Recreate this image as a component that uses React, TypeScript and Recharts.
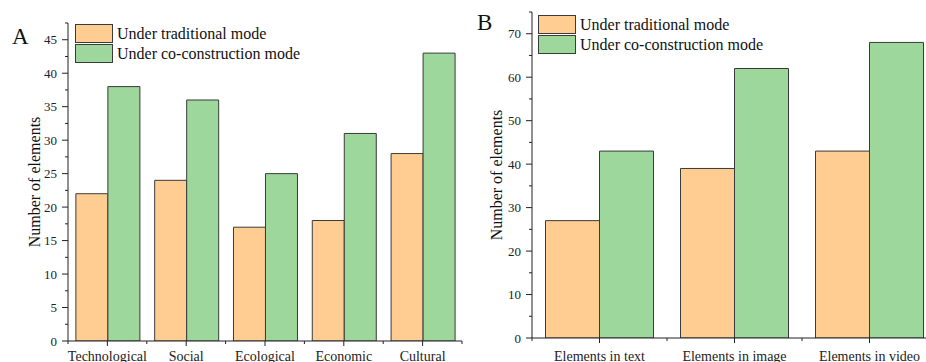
import React from 'react';
import { BarChart, Bar, XAxis, YAxis, Legend } from 'recharts';

const categoriesA = ['Technological', 'Social', 'Ecological', 'Economic', 'Cultural'];
const traditionalA = [22, 24, 17, 18, 28];
const coConstructionA = [38, 36, 25, 31, 43];
const yMajorA = [0, 5, 10, 15, 20, 25, 30, 35, 40, 45];
const yMinorA = [2.5, 7.5, 12.5, 17.5, 22.5, 27.5, 32.5, 37.5, 42.5, 47.5];

const categoriesB = ['Elements in text', 'Elements in image', 'Elements in video'];
const traditionalB = [27, 39, 43];
const coConstructionB = [43, 62, 68];
const yMajorB = [0, 10, 20, 30, 40, 50, 60, 70];
const yMinorB = [5, 15, 25, 35, 45, 55, 65, 75];

const seriesNames = ['Under traditional mode', 'Under co-construction mode'];
const yTitle = 'Number of elements';

const FONT = '"Liberation Serif", "Times New Roman", serif';
const ORANGE = '#FFCD92';
const GREEN = '#9DD79B';
const STROKE = '#3a3a3a';
const AXIS = '#222';

const Y_TICK = 6;
const Y_MARGIN = 5;

const buildRows = (cats: string[], a: number[], b: number[]) =>
  cats.map((c, i) => ({ name: c, traditional: a[i], co: b[i] }));

const makeYTick = (majors: number[]) => (props: any) => {
  const { x, y, payload } = props;
  const axisX = x + Y_TICK + Y_MARGIN;
  const isMajor = majors.includes(payload.value);
  return (
    <g>
      <line x1={axisX} x2={axisX - (isMajor ? Y_TICK : 3)} y1={y} y2={y} stroke={AXIS} strokeWidth={1} />
      {isMajor && (
        <text x={x} y={y} dy="0.35em" textAnchor="end" fill={AXIS} fontSize={13} fontFamily={FONT}>
          {payload.value}
        </text>
      )}
    </g>
  );
};

const makeXTick = (band: number, count: number, tickSize: number, tickMargin: number) => (props: any) => {
  const { x, y, payload, index } = props;
  const axisY = y - tickSize - tickMargin;
  return (
    <g>
      <line x1={x} x2={x} y1={axisY} y2={axisY + tickSize} stroke={AXIS} strokeWidth={1} />
      <line x1={x - band / 2} x2={x - band / 2} y1={axisY} y2={axisY + 3} stroke={AXIS} strokeWidth={1} />
      {index === count - 1 && (
        <line x1={x + band / 2} x2={x + band / 2} y1={axisY} y2={axisY + 3} stroke={AXIS} strokeWidth={1} />
      )}
      <text x={x} y={y} dy="0.71em" textAnchor="middle" fill={AXIS} fontSize={14} fontFamily={FONT}>
        {payload.value}
      </text>
    </g>
  );
};

const renderLegend = (props: any) => {
  const items = [...(props.payload || [])].sort(
    (a: any, b: any) => seriesNames.indexOf(a.value) - seriesNames.indexOf(b.value)
  );
  return (
    <div>
      {items.map((entry: any, i: number) => (
        <div key={i} style={{ display: 'flex', alignItems: 'center', height: 20 }}>
          <span
            style={{
              display: 'inline-block',
              width: 38,
              height: 19,
              background: entry.color,
              border: `1px solid ${STROKE}`,
              boxSizing: 'border-box',
            }}
          />
          <span style={{ marginLeft: 4, fontFamily: FONT, fontSize: 16, color: '#111', whiteSpace: 'nowrap', lineHeight: '19px' }}>
            {entry.value}
          </span>
        </div>
      ))}
    </div>
  );
};

type PanelProps = {
  rows: any[];
  count: number;
  width: number;
  height: number;
  margin: { top: number; right: number; bottom: number; left: number };
  yAxisWidth: number;
  xAxisHeight: number;
  xTickSize: number;
  xTickMargin: number;
  domainMax: number;
  majors: number[];
  minors: number[];
  titleOffset: number;
  legendPos: { left: number; top: number };
};

const Panel = (p: PanelProps) => {
  const plotWidth = p.width - p.margin.left - p.margin.right - p.yAxisWidth;
  const band = plotWidth / p.count;
  const ticks = [...p.majors, ...p.minors].sort((a, b) => a - b);
  return (
    <BarChart
      width={p.width}
      height={p.height}
      data={p.rows}
      margin={p.margin}
      barCategoryGap="10%"
      barGap={0}
    >
      <XAxis
        dataKey="name"
        height={p.xAxisHeight}
        tickSize={p.xTickSize}
        tickMargin={p.xTickMargin}
        tickLine={false}
        axisLine={{ stroke: AXIS, strokeWidth: 1 }}
        tick={makeXTick(band, p.count, p.xTickSize, p.xTickMargin)}
        interval={0}
      />
      <YAxis
        width={p.yAxisWidth}
        domain={[0, p.domainMax]}
        ticks={ticks}
        interval={0}
        tickSize={Y_TICK}
        tickMargin={Y_MARGIN}
        tickLine={false}
        axisLine={{ stroke: AXIS, strokeWidth: 1 }}
        tick={makeYTick(p.majors)}
        allowDataOverflow
        label={{
          value: yTitle,
          angle: -90,
          position: 'insideLeft',
          offset: p.titleOffset,
          style: { textAnchor: 'middle', fontFamily: FONT, fontSize: 16, fill: '#111' },
        }}
      />
      <Legend
        layout="vertical"
        verticalAlign="middle"
        align="center"
        content={renderLegend}
        wrapperStyle={{ left: p.legendPos.left, top: p.legendPos.top, width: 'auto', height: 'auto' }}
      />
      <Bar dataKey="traditional" name={seriesNames[0]} fill={ORANGE} stroke={STROKE} strokeWidth={1} isAnimationActive={false} />
      <Bar dataKey="co" name={seriesNames[1]} fill={GREEN} stroke={STROKE} strokeWidth={1} isAnimationActive={false} />
    </BarChart>
  );
};

export default function App() {
  const rowsA = buildRows(categoriesA, traditionalA, coConstructionA);
  const rowsB = buildRows(categoriesB, traditionalB, coConstructionB);
  return (
    <div
      style={{
        position: 'absolute',
        left: 0,
        top: 0,
        width: 926,
        height: 362,
        overflow: 'hidden',
        background: '#fff',
      }}
    >
      <div style={{ position: 'absolute', left: 0, top: 0 }}>
        <Panel
          rows={rowsA}
          count={categoriesA.length}
          width={470}
          height={362}
          margin={{ top: 23, right: 8, bottom: 0, left: 0 }}
          yAxisWidth={68}
          xAxisHeight={21}
          xTickSize={5}
          xTickMargin={5}
          domainMax={47.5}
          majors={yMajorA}
          minors={yMinorA}
          titleOffset={34}
          legendPos={{ left: 75, top: 23 }}
        />
      </div>
      <div style={{ position: 'absolute', left: 464, top: 0 }}>
        <Panel
          rows={rowsB}
          count={categoriesB.length}
          width={480}
          height={362}
          margin={{ top: 12, right: 7, bottom: 0, left: 0 }}
          yAxisWidth={68}
          xAxisHeight={24}
          xTickSize={5}
          xTickMargin={8}
          domainMax={75}
          majors={yMajorB}
          minors={yMinorB}
          titleOffset={32}
          legendPos={{ left: 74, top: 14 }}
        />
      </div>
      <div style={{ position: 'absolute', left: 12, top: 23, fontFamily: FONT, fontSize: 23, lineHeight: '28px', color: '#111' }}>A</div>
      <div style={{ position: 'absolute', left: 477, top: 9, fontFamily: FONT, fontSize: 23, lineHeight: '28px', color: '#111' }}>B</div>
    </div>
  );
}
